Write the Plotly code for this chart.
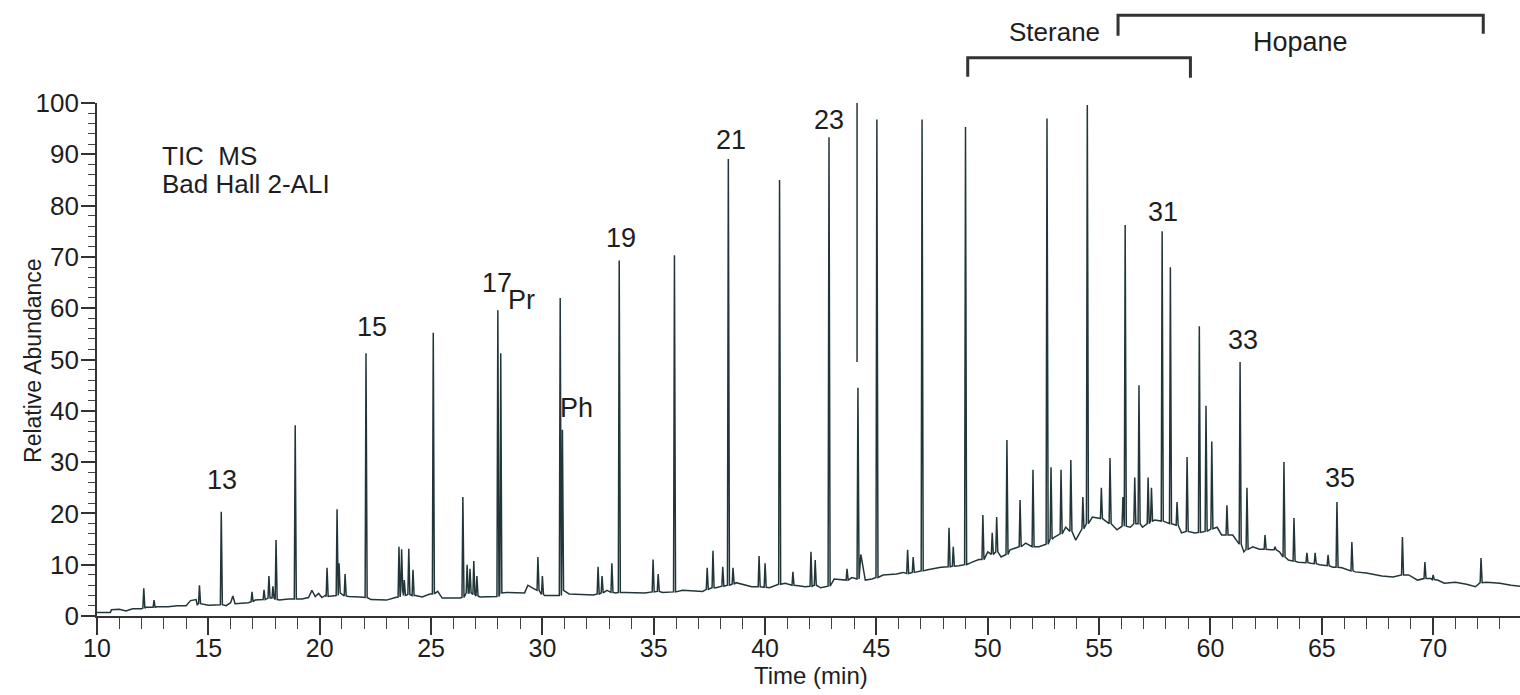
import plotly.graph_objects as go

# ---------------- data ----------------
# baseline (between resolved peaks): time (min), relative abundance
base_time = [10.0, 10.6, 10.65, 11.0, 11.3, 11.6, 12.0, 12.2, 12.5, 12.7, 13.2, 13.6, 14.0, 14.2,
             14.45, 14.5, 15.0, 15.4, 15.8, 16.0, 16.1, 16.2, 16.8, 17.1, 17.4, 18.2, 18.6, 19.2,
             19.5, 19.65, 19.8, 19.95, 20.1, 20.25, 21.3, 21.8, 22.3, 23.0, 23.4, 24.3, 24.6, 24.95,
             25.3, 25.5, 26.3, 27.2, 27.9, 28.4, 29.2, 29.35, 29.55, 30.1, 30.6, 31.2, 32.3, 32.9,
             33.3, 33.7, 34.6, 35.4, 35.7, 36.3, 37.2, 37.8, 38.7, 39.4, 40.2, 40.9, 41.5, 41.8,
             42.5, 43.1, 43.5, 43.9, 44.3, 44.5, 44.8, 45.3, 45.9, 46.2, 47.3, 47.9, 48.7, 49.3,
             49.6, 50.0, 50.6, 51.0, 51.7, 52.3, 53.0, 53.5, 53.95, 54.7, 55.3, 55.8, 56.4, 56.95,
             57.5, 58.4, 58.7, 59.3, 60.3, 60.5, 61.0, 61.5, 61.9, 62.2, 62.7, 63.1, 63.5, 63.95,
             64.5, 64.9, 65.5, 65.9, 66.5, 67.0, 67.7, 68.2, 68.9, 69.3, 69.9, 70.2, 70.5, 71.0,
             71.5, 71.9, 72.4, 73.0, 73.5, 73.9]
base_level = [0.7, 0.7, 1.2, 1.3, 1.0, 1.4, 1.4, 1.7, 1.7, 1.8, 1.8, 2.0, 2.0, 3.0,
              3.2, 2.2, 2.1, 2.2, 2.0, 2.6, 3.9, 2.4, 2.6, 3.1, 3.2, 3.1, 3.3, 3.3,
              3.6, 5.0, 3.8, 4.4, 3.6, 4.0, 3.8, 3.7, 3.2, 3.1, 3.6, 4.0, 3.7, 4.3,
              4.8, 3.5, 3.5, 3.7, 3.8, 4.6, 4.5, 6.0, 5.5, 4.0, 4.0, 4.3, 4.1, 5.0,
              4.5, 4.6, 4.5, 4.6, 4.7, 5.0, 4.8, 5.5, 6.5, 5.7, 5.5, 6.4, 5.9, 5.7,
              5.5, 7.2, 7.0, 7.5, 12.0, 7.0, 7.2, 8.0, 8.2, 8.5, 9.0, 9.5, 9.8, 10.5,
              11.0, 12.5, 11.5, 12.9, 14.2, 13.5, 15.4, 17.3, 14.8, 19.3, 18.5, 16.8, 17.3, 17.3,
              18.7, 17.7, 16.2, 16.2, 17.3, 15.8, 15.8, 12.5, 13.5, 13.0, 12.9, 12.5, 10.9, 10.5,
              10.3, 10.0, 9.5, 9.4, 8.6, 8.4, 7.8, 7.6, 8.0, 7.0, 7.3, 7.0, 6.4, 6.6,
              6.2, 5.7, 6.6, 6.4, 6.0, 5.8]

# resolved peaks: apex time, apex height, foot level
peak_time = [12.1, 12.56, 14.6, 15.58, 16.96, 17.5, 17.72, 17.9, 18.04, 18.9, 20.33, 20.78, 20.87,
             21.14, 22.08, 23.56, 23.68, 23.8, 24.0, 24.19, 25.1, 26.43, 26.62, 26.75, 26.92, 27.06,
             28.0, 28.13, 29.8, 30.0, 30.8, 30.9, 32.5, 32.68, 33.12, 33.45, 34.97, 35.2, 35.93,
             37.4, 37.66, 38.1, 38.35, 38.56, 39.73, 40.0, 40.65, 41.25, 42.06, 42.25, 42.87, 43.68,
             44.17, 45.02, 46.4, 46.65, 47.05, 48.26, 48.45, 49.0, 49.78, 50.2, 50.4, 50.86, 51.45,
             52.03, 52.66, 52.84, 53.29, 53.73, 54.27, 54.47, 55.1, 55.49, 56.07, 56.17, 56.6, 56.79,
             57.2, 57.35, 57.83, 58.2, 58.5, 58.95, 59.5, 59.8, 60.06, 60.74, 61.33, 61.64, 62.45,
             62.9, 63.3, 63.75, 64.33, 64.7, 65.28, 65.68, 66.35, 68.62, 69.63, 70.0, 72.15]
peak_height = [5.4, 3.1, 6.0, 20.3, 4.7, 5.1, 7.8, 5.8, 14.8, 37.2, 9.4, 20.8, 10.3,
               8.2, 51.2, 13.5, 13.0, 7.0, 13.1, 9.0, 55.2, 23.2, 10.0, 9.2, 10.7, 7.8,
               59.6, 51.2, 11.5, 7.8, 62.0, 36.3, 9.6, 7.8, 10.3, 69.3, 11.0, 8.2, 70.3,
               9.4, 12.7, 9.6, 89.1, 9.4, 11.7, 10.3, 85.0, 8.6, 12.5, 10.9, 93.3, 9.2,
               44.5, 96.8, 12.9, 11.5, 96.8, 17.2, 13.5, 95.3, 19.7, 16.2, 19.3, 34.3, 22.6,
               28.5, 97.0, 29.0, 28.5, 30.4, 23.2, 99.6, 25.0, 30.8, 23.2, 76.2, 27.0, 45.0,
               27.0, 25.0, 75.0, 68.0, 22.2, 31.0, 56.5, 41.0, 34.0, 21.6, 49.5, 25.0, 15.8,
               13.5, 30.0, 19.1, 12.3, 12.3, 11.9, 22.2, 14.4, 15.4, 10.5, 8.0, 11.3]
peak_foot = [1.5, 1.7, 2.4, 2.2, 2.8, 3.2, 3.5, 3.5, 3.2, 3.3, 3.8, 4.0, 4.5,
             3.9, 3.6, 3.7, 5.0, 4.0, 4.2, 4.0, 4.3, 3.6, 4.5, 4.5, 4.2, 3.9,
             3.8, 4.5, 5.0, 4.2, 4.0, 5.0, 4.3, 4.5, 4.6, 4.6, 4.7, 4.8, 4.7,
             5.2, 5.5, 5.8, 6.0, 6.2, 5.7, 5.6, 6.2, 6.0, 5.8, 6.0, 5.8, 7.0,
             7.2, 7.5, 8.3, 8.5, 8.8, 9.6, 9.7, 10.0, 11.0, 12.0, 12.5, 12.0, 13.5,
             13.5, 14.0, 15.0, 16.0, 16.5, 17.0, 18.0, 19.0, 18.0, 17.5, 17.5, 18.0, 18.0,
             18.0, 18.5, 18.5, 18.0, 17.7, 16.5, 16.3, 16.5, 17.0, 15.8, 14.0, 13.0, 13.0,
             12.9, 11.5, 10.7, 10.4, 10.2, 9.8, 9.5, 8.8, 8.0, 7.3, 7.1, 6.5]

# internal standard: upper part of its peak (drawn separately, broken line)
std_time = [44.13, 44.13]
std_level = [49.5, 101.0]

# peak labels
label_text = ["13", "15", "17", "Pr", "Ph", "19", "21", "23", "Std.", "25", "27", "29", "31", "33", "35"]
label_time = [15.61, 22.35, 27.96, 29.04, 31.55, 33.53, 38.47, 42.87, 44.08, 47.13, 51.22, 54.59, 57.87, 61.46, 65.81]
label_level = [26.5, 56.3, 64.9, 61.6, 40.5, 73.7, 92.8, 96.7, 101.6, 100.4, 102.1, 102.9, 78.8, 53.8, 26.9]

# biomarker elution windows (min)
sterane_range = [49.1, 59.1]
hopane_range = [55.85, 72.25]
sterane_label_time = 53.0

x_ticks = [10, 15, 20, 25, 30, 35, 40, 45, 50, 55, 60, 65, 70]
y_ticks = [0, 10, 20, 30, 40, 50, 60, 70, 80, 90, 100]

# ---------------- build trace ----------------
pts = list(zip(base_time, base_level))
for t, h, f in zip(peak_time, peak_height, peak_foot):
    pts += [(t - 0.04, f), (t, h), (t + 0.05, f)]
pts.sort(key=lambda p: p[0])
tx = [p[0] for p in pts]
ty = [p[1] for p in pts]

LINE = "#22363a"
TXT = "#1e1e1e"
FONT = "Liberation Sans, Arial, sans-serif"

fig = go.Figure()
fig.add_trace(go.Scatter(x=tx, y=ty, mode="lines", line=dict(color=LINE, width=1.5),
                         hoverinfo="skip", showlegend=False))
fig.add_trace(go.Scatter(x=std_time, y=std_level, mode="lines", line=dict(color=LINE, width=1.5),
                         hoverinfo="skip", showlegend=False, cliponaxis=False))

ann = []
for s, t, v in zip(label_text, label_time, label_level):
    ann.append(dict(x=t, y=v, xref="x", yref="y", text=s, showarrow=False,
                    xanchor="center", yanchor="middle",
                    font=dict(size=27, color=TXT, family=FONT)))
ann.append(dict(x=12.83, y=89.6, xref="x", yref="y", text="TIC  MS", showarrow=False,
                xanchor="left", yanchor="middle", font=dict(size=26, color=TXT, family=FONT)))
ann.append(dict(x=12.83, y=84.3, xref="x", yref="y", text="Bad Hall 2-ALI", showarrow=False,
                xanchor="left", yanchor="middle", font=dict(size=26, color=TXT, family=FONT)))
ann.append(dict(x=-0.045, y=0.499, xref="paper", yref="paper", text="Relative Abundance",
                textangle=-90, showarrow=False, xanchor="center", yanchor="middle",
                font=dict(size=23, color=TXT, family=FONT)))
ann.append(dict(x=0.502, y=-0.116, xref="paper", yref="paper", text="Time (min)",
                showarrow=False, xanchor="center", yanchor="middle",
                font=dict(size=24, color=TXT, family=FONT)))
ann.append(dict(x=sterane_label_time, y=1.138, xref="x", yref="paper",
                text="Sterane", showarrow=False, xanchor="center", yanchor="middle",
                font=dict(size=26, color=TXT, family=FONT)))
ann.append(dict(x=(hopane_range[0] + hopane_range[1]) / 2, y=1.119, xref="x", yref="paper",
                text="Hopane", showarrow=False, xanchor="center", yanchor="middle",
                font=dict(size=27, color=TXT, family=FONT)))

shapes = []
bw = dict(color="#333333", width=3)
shapes.append(dict(type="path", xref="x", yref="paper",
                   path=f"M {sterane_range[0]},1.051 L {sterane_range[0]},1.088 L {sterane_range[1]},1.088 L {sterane_range[1]},1.049",
                   line=bw))
shapes.append(dict(type="path", xref="x", yref="paper",
                   path=f"M {hopane_range[0]},1.131 L {hopane_range[0]},1.171 L {hopane_range[1]},1.171 L {hopane_range[1]},1.135",
                   line=bw))

fig.update_layout(
    width=1520, height=695,
    margin=dict(l=97, r=0, t=103, b=79),
    paper_bgcolor="white", plot_bgcolor="white",
    annotations=ann, shapes=shapes,
    font=dict(family=FONT, color=TXT),
    xaxis=dict(range=[10, 73.9], tickvals=x_ticks, ticks="outside", ticklen=17, tickwidth=1.6,
               tickcolor="#333", showline=True, linecolor="#333", linewidth=1.8, showgrid=False,
               zeroline=False, ticklabelstandoff=-8, tickfont=dict(size=25, color=TXT, family=FONT),
               minor=dict(dtick=1, tick0=10, ticks="outside", ticklen=11, tickwidth=1.3, tickcolor="#444",
                          showgrid=False)),
    yaxis=dict(range=[0, 100], tickvals=y_ticks, ticks="outside", ticklen=14, tickwidth=1.6,
               tickcolor="#333", showline=True, linecolor="#333", linewidth=1.8, showgrid=False,
               zeroline=False, ticklabelstandoff=-3, tickfont=dict(size=26, color=TXT, family=FONT),
               minor=dict(dtick=2, tick0=0, ticks="outside", ticklen=7, tickwidth=1.3, tickcolor="#444",
                          showgrid=False)),
)

fig.write_html("out.html")
